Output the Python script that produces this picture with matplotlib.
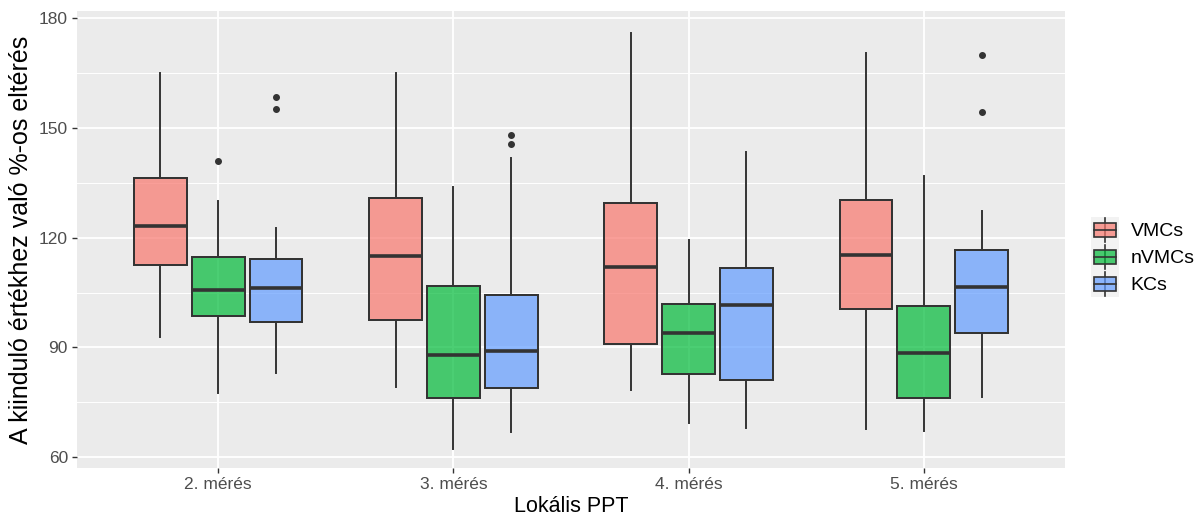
import matplotlib
matplotlib.use("Agg")
import matplotlib.pyplot as plt
from matplotlib.legend_handler import HandlerBase
from matplotlib.patches import Rectangle
from matplotlib.lines import Line2D

plt.rcParams['font.family'] = ['Liberation Sans', 'DejaVu Sans']

groups = ["2. mérés", "3. mérés", "4. mérés", "5. mérés"]
series = ["VMCs", "nVMCs", "KCs"]
colors = ["#F8766D", "#00BA38", "#619CFF"]

# box stats: low whisker, Q1, median, Q3, high whisker
vmcs_low = [92.9, 79.2, 78.4, 67.6]
vmcs_q1 = [112.6, 97.6, 91.0, 100.5]
vmcs_med = [123.2, 114.9, 112.1, 115.3]
vmcs_q3 = [136.3, 130.9, 129.6, 130.4]
vmcs_high = [165.1, 165.1, 175.9, 170.5]
vmcs_out = [[], [], [], []]

nvmcs_low = [77.4, 62.1, 69.2, 67.1]
nvmcs_q1 = [98.5, 76.1, 82.7, 76.1]
nvmcs_med = [105.8, 87.9, 93.8, 88.4]
nvmcs_q3 = [114.7, 106.8, 101.8, 101.4]
nvmcs_high = [129.9, 133.8, 119.4, 136.8]
nvmcs_out = [[141.1], [], [], []]

kcs_low = [83.0, 66.8, 68.0, 76.3]
kcs_q1 = [96.9, 79.0, 81.0, 93.9]
kcs_med = [106.2, 89.1, 101.6, 106.6]
kcs_q3 = [114.2, 104.3, 111.8, 116.7]
kcs_high = [122.7, 141.7, 143.4, 127.2]
kcs_out = [[158.5, 155.2], [148.1, 145.6], [], [170.1, 154.3]]

data = [
    (vmcs_low, vmcs_q1, vmcs_med, vmcs_q3, vmcs_high, vmcs_out),
    (nvmcs_low, nvmcs_q1, nvmcs_med, nvmcs_q3, nvmcs_high, nvmcs_out),
    (kcs_low, kcs_q1, kcs_med, kcs_q3, kcs_high, kcs_out),
]

edge = "#333333"
fig = plt.figure(figsize=(12.01, 5.24), dpi=100)
ax = fig.add_axes([77 / 1201, 1 - 468 / 524, (1065 - 77) / 1201, (468 - 11) / 524])
ax.set_facecolor("#EBEBEB")

dodge = 0.246
for k, (lo, q1, med, q3, hi, out) in enumerate(data):
    stats = []
    for i in range(len(groups)):
        stats.append(dict(whislo=lo[i], q1=q1[i], med=med[i], q3=q3[i], whishi=hi[i], fliers=out[i]))
    pos = [i + 1 + (k - 1) * dodge for i in range(len(groups))]
    ax.bxp(stats, positions=pos, widths=0.225, patch_artist=True, showcaps=False,
           boxprops=dict(facecolor=colors[k], alpha=0.7, edgecolor=edge, linewidth=1.4),
           medianprops=dict(color=edge, linewidth=2.6),
           whiskerprops=dict(color=edge, linewidth=1.4),
           flierprops=dict(marker='o', markerfacecolor=edge, markeredgecolor=edge, markersize=4),
           manage_ticks=False, zorder=3)
    # redraw box edges opaque
    for i in range(len(groups)):
        ax.add_patch(Rectangle((pos[i] - 0.1125, q1[i]), 0.225, q3[i] - q1[i], fill=False,
                               edgecolor=edge, linewidth=1.4, zorder=3.5))

ax.set_xlim(0.4, 4.6)
ax.set_ylim(57, 182)
ax.set_xticks(range(1, len(groups) + 1))
ax.set_xticklabels(groups)
ax.set_yticks([60, 90, 120, 150, 180])
ax.set_yticks([75, 105, 135, 165], minor=True)
ax.grid(which='major', color='white', linewidth=1.3, zorder=0)
ax.grid(which='minor', axis='y', color='white', linewidth=0.7, zorder=0)
ax.set_axisbelow(True)
for s in ax.spines.values():
    s.set_visible(False)
ax.tick_params(which='major', length=3.5, width=1, color=edge, labelsize=12.5, labelcolor="#4D4D4D", pad=3)
ax.tick_params(which='minor', length=0)
ax.set_xlabel("Lokális PPT", fontsize=15.5, labelpad=3)
ax.set_ylabel("A kiinduló értékhez való %-os eltérés", fontsize=18, labelpad=4)


class BoxHandler(HandlerBase):
    def create_artists(self, legend, orig_handle, xdescent, ydescent, width, height, fontsize, trans):
        x0, y0 = -xdescent, -ydescent
        bg = Rectangle((x0, y0), width, height, facecolor="#F2F2F2", edgecolor="none", transform=trans)
        wh = Line2D([x0 + width / 2] * 2, [y0 + 0.05 * height, y0 + 0.95 * height], color=edge, lw=1.2, transform=trans)
        bx = Rectangle((x0 + 0.12 * width, y0 + 0.24 * height), 0.76 * width, 0.52 * height,
                       facecolor=orig_handle.get_facecolor(), edgecolor=edge, lw=1.2, transform=trans)
        md = Line2D([x0 + 0.12 * width, x0 + 0.88 * width], [y0 + height / 2] * 2, color=edge, lw=1.2, transform=trans)
        return [bg, wh, bx, md]


handles = [Rectangle((0, 0), 1, 1, facecolor=c, alpha=0.7) for c in colors]
fig.legend(handles, series, handler_map={Rectangle: BoxHandler()}, loc="center left",
           bbox_to_anchor=(1091 / 1201, 1 - 257 / 524), frameon=False, fontsize=14,
           handlelength=1.45, handleheight=1.75, labelspacing=0.0, handletextpad=0.6,
           borderpad=0, borderaxespad=0)

fig.savefig("out.png", dpi=100)
